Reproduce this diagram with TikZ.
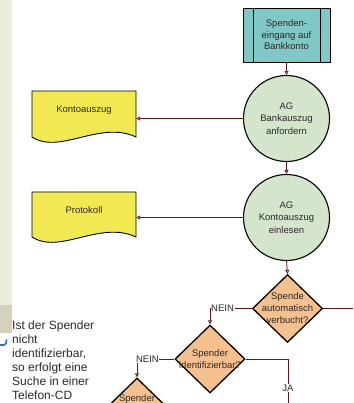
\documentclass[tikz,border=0pt]{standalone}
\usepackage{fontspec}
\setmainfont{Liberation Sans}
\usetikzlibrary{shapes.geometric,arrows.meta}
\definecolor{tealbox}{RGB}{128,200,198}
\definecolor{sage}{RGB}{212,229,203}
\definecolor{docyellow}{RGB}{242,232,82}
\definecolor{decorange}{RGB}{244,192,142}
\definecolor{stripbeige}{RGB}{236,234,216}
\definecolor{stripdark}{RGB}{214,208,188}
\definecolor{connred}{RGB}{95,25,25}
\definecolor{txtgray}{RGB}{45,40,40}
\definecolor{markblue}{RGB}{40,110,200}
\begin{document}
\begin{tikzpicture}[x=1pt,y=-1pt,
  nodetext/.style={font=\fontsize{9.5}{12}\selectfont, text=txtgray, align=center, inner sep=0},
  procbox/.style={draw=black, line width=0.9pt, fill=tealbox, minimum width=87pt, minimum height=54pt, inner sep=0},
  proc/.style={circle, draw=black, line width=1.1pt, fill=sage, minimum size=86pt, inner sep=0, nodetext, font=\fontsize{9.5}{12.5}\selectfont},
  dec/.style={diamond, draw=black, line width=1.3pt, fill=decorange, minimum width=70pt, minimum height=68pt, inner sep=0},
  docfill/.style={fill=docyellow, draw=black, line width=0.9pt},
  docanchor/.style={minimum width=104pt, minimum height=46pt, inner sep=0},
  conn/.style={draw=connred, line width=0.8pt},
  tip/.style={-{Triangle[open,length=4pt,width=4pt]}},
  lbl/.style={font=\fontsize{9.5}{11}\selectfont, text=txtgray, fill=white, inner sep=0.6pt}
]
\useasboundingbox (0,0) rectangle (353,403);
\clip (0,0) rectangle (353,403);

% left strip
\fill[stripbeige] (0,0) rectangle (12,333);
\fill[stripdark] (0,305) rectangle (12,333);
\draw[markblue, line width=1.6pt, line cap=round] (0,345) -- (4,345) to[out=0,in=-90] (6.5,340);

% left explanation text
\node[anchor=west, align=left, inner sep=0, text=txtgray, font=\fontsize{12}{14}\selectfont] (note) at (12,360)
  {Ist der Spender\\nicht\\identifizierbar,\\so erfolgt eine\\Suche in einer\\Telefon-CD};

% top box
\node[procbox] (box) at (286.5,35) {};
\draw[black, line width=0.8pt] ([xshift=11pt]box.north west) -- ([xshift=11pt]box.south west);
\draw[black, line width=0.8pt] ([xshift=-10pt]box.north east) -- ([xshift=-10pt]box.south east);
\node[nodetext, font=\fontsize{9.5}{11.5}\selectfont] at (box) {Spenden-\\eingang auf\\Bankkonto};

% circles
\node[proc] (c1) at (286.5,118.5) {AG\\Bankauszug\\anfordern};
\node[proc] (c2) at (286.5,217.5) {AG\\Kontoauszug\\einlesen};

% documents
\node[docanchor] (kto) at (84,114) {};
\path[docfill] (32,91) -- (136,91) -- (136,137) .. controls (100,120) and (60,155) .. (32,137) -- cycle;
\node[nodetext] at (84,110) {Kontoauszug};

\node[docanchor] (prot) at (84,214.5) {};
\path[docfill] (32,192) -- (136,192) -- (136,237) .. controls (100,220) and (60,255) .. (32,237) -- cycle;
\node[nodetext] at (84,210) {Protokoll};

% decisions
\node[dec] (d1) at (287.5,308.5) {};
\node[nodetext] at (d1) {Spende\\automatisch\\verbucht?};
\node[dec] (d2) at (210,359) {};
\node[nodetext] at (d2) {Spender\\identifizierbar?};
\node[dec] (d3) at (137,412) {};
\node[nodetext, anchor=north] at (137,394) {Spender};

\coordinate (rightend) at (360,0);
\coordinate (jaend) at (288,420);

% connectors
\draw[conn,tip] (box.south) -- (c1.north);
\draw[conn,tip] (c1.south) -- (c2.north);
\draw[conn,tip] (c2.south) -- (d1.north);
\draw[conn,tip] (c1.west) -- (c1.west -| kto.east);
\draw[conn,tip] (c2.west) -- (c2.west -| prot.east);
\draw[conn] (d1.east) -- (d1.east -| rightend);
\draw[conn,tip] (d1.west) -| (d2.north) node[lbl, pos=0.35] {NEIN};
\draw[conn,tip] (d2.west) -| (d3.north) node[lbl, pos=0.36] {NEIN};
\draw[conn] (d2.east) -| (jaend);
\node[lbl] at (288,388) {JA};
\end{tikzpicture}
\end{document}
